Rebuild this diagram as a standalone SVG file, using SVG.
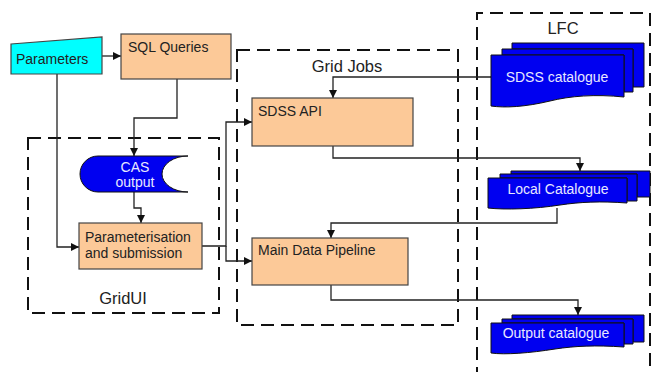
<svg xmlns="http://www.w3.org/2000/svg" width="657" height="372" viewBox="0 0 657 372">
<defs>
<style>
text{font-family:"Liberation Sans",Arial,sans-serif;font-size:14px;fill:#222}
.lbl{font-size:16.5px}
.w{fill:#e8e8ff}
.box{fill:#fcc998;stroke:#444;stroke-width:1.2}
.doc{fill:#0000f0;stroke:#111;stroke-width:1}
.grp{fill:none;stroke:#111;stroke-width:2;stroke-dasharray:13 7}
.c{fill:none;stroke:#222;stroke-width:1.3}
</style>
<marker id="a" viewBox="0 0 10 10" refX="10" refY="5" markerWidth="8" markerHeight="8" markerUnits="userSpaceOnUse" orient="auto"><path d="M0,0 L10,5 L0,10 Z" fill="#111"/></marker>
</defs>
<rect width="657" height="372" fill="#fff"/>

<g id="gridui-group"><rect class="grp" x="28" y="138" width="191" height="175"/><text class="lbl" x="123" y="304" text-anchor="middle">GridUI</text></g>
<g id="gridjobs-group"><rect class="grp" x="237" y="50" width="221" height="275"/><text class="lbl" x="347" y="72" text-anchor="middle">Grid Jobs</text></g>
<g id="lfc-group"><path class="grp" d="M477,380 V13 H650 V380"/><text class="lbl" x="563" y="34" text-anchor="middle">LFC</text></g>

<g id="connectors">
<path class="c" d="M102,56 H121" marker-end="url(#a)"/>
<path class="c" d="M177,79 V118 H134 V156" marker-end="url(#a)"/>
<path class="c" d="M57,74 V247 H79" marker-end="url(#a)"/>
<path class="c" d="M134,192 V208 H141 V223" marker-end="url(#a)"/>
<path class="c" d="M202,246 H226 V122 H252" marker-end="url(#a)"/>
<path class="c" d="M226,246 V261 H252" marker-end="url(#a)"/>
<path class="c" d="M491,77 H333 V98" marker-end="url(#a)"/>
<path class="c" d="M333,146 V158 H580 V171" marker-end="url(#a)"/>
<path class="c" d="M557,208 V223 H331 V238" marker-end="url(#a)"/>
<path class="c" d="M331,285 V300 H578 V315" marker-end="url(#a)"/>
</g>

<g id="parameters"><path d="M11,44 L102,37 V74 H11 Z" fill="#00ffff" stroke="#444" stroke-width="1.2"/><text x="16" y="64">Parameters</text></g>
<g id="sql-queries"><rect class="box" x="121" y="34" width="110" height="45"/><text x="128" y="52">SQL Queries</text></g>
<g id="cas-output"><path class="doc" d="M98,156 H188 A26,18 0 0 0 188,192 H98 A18,18 0 0 1 98,156 Z"/><text class="w" x="135" y="172" text-anchor="middle">CAS</text><text class="w" x="135" y="187" text-anchor="middle">output</text></g>
<g id="parameterisation"><rect class="box" x="79" y="223" width="123" height="46"/><text x="85" y="242">Parameterisation</text><text x="85" y="258">and submission</text></g>
<g id="sdss-api"><rect class="box" x="252" y="98" width="161" height="48"/><text x="258" y="116">SDSS API</text></g>
<g id="main-pipeline"><rect class="box" x="252" y="238" width="156" height="47"/><text x="258" y="255">Main Data Pipeline</text></g>

<g id="sdss-catalogue">
<path class="doc" d="M512,43 H644 V87 H633 V49 H512 Z"/>
<path class="doc" d="M502,49 H633 V92 H624 V55 H502 Z"/>
<path class="doc" d="M491,55 H624 V97 C595,94 570,96 550,101 C525,107 505,108 491,106 Z"/>
<text class="w" x="557" y="82" text-anchor="middle">SDSS catalogue</text>
</g>
<g id="local-catalogue">
<path class="doc" d="M511,171 H650 V197 H637 V174 H511 Z"/>
<path class="doc" d="M500,174 H637 V201 H627 V178 H500 Z"/>
<path class="doc" d="M488,178 H627 V203 C600,201 580,202 560,205 C535,209 505,210 488,208 Z"/>
<text class="w" x="558" y="194" text-anchor="middle">Local Catalogue</text>
</g>
<g id="output-catalogue">
<path class="doc" d="M512,315 H644 V342 H633 V319 H512 Z"/>
<path class="doc" d="M502,319 H633 V344 H624 V323 H502 Z"/>
<path class="doc" d="M491,323 H624 V347 C595,345 575,346 555,349 C530,353 505,355 491,353 Z"/>
<text class="w" x="556" y="338" text-anchor="middle">Output catalogue</text>
</g>
</svg>
